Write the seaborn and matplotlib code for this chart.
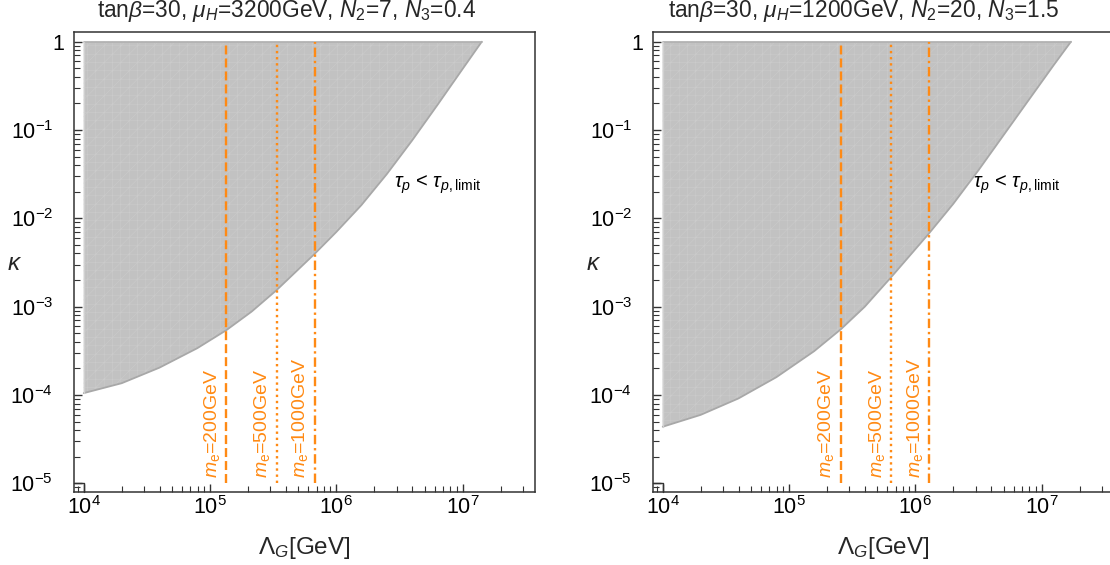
import matplotlib
matplotlib.use("Agg")
import matplotlib.pyplot as plt
import matplotlib.ticker as mticker
import matplotlib.transforms as mtransforms
import pandas as pd
import seaborn as sns
import numpy as np

# %% data
titles = [r"tan$\beta$=30, $\mu_H$=3200GeV, $N_2$=7, $N_3$=0.4",
          r"tan$\beta$=30, $\mu_H$=1200GeV, $N_2$=20, $N_3$=1.5"]

lam_left = [1.0e4, 2.0e4, 3.98e4, 7.94e4, 1.35e5, 2.14e5, 3.37e5, 6.76e5, 1.0e6,
            1.58e6, 2.51e6, 3.98e6, 6.31e6, 1.0e7, 1.42e7]
kappa_left = [1.05e-4, 1.36e-4, 2.04e-4, 3.39e-4, 5.43e-4, 8.81e-4, 1.54e-3, 3.98e-3, 7.0e-3,
              1.41e-2, 3.16e-2, 7.59e-2, 0.191, 0.49, 1.0]

lam_right = [1.0e4, 2.0e4, 3.98e4, 7.94e4, 1.58e5, 2.58e5, 3.98e5, 6.43e5, 1.28e6,
             2.0e6, 3.16e6, 5.01e6, 7.94e6, 1.26e7, 1.71e7]
kappa_right = [4.37e-5, 5.96e-5, 9.14e-5, 1.59e-4, 3.13e-4, 5.56e-4, 9.98e-4, 2.15e-3, 6.71e-3,
               1.46e-2, 3.49e-2, 8.77e-2, 0.22, 0.553, 1.0]

me_values = [200, 500, 1000]
me_lam_left = [1.35e5, 3.37e5, 6.76e5]
me_lam_right = [2.58e5, 6.45e5, 1.29e6]
me_styles = [(0, (3.8, 1.7)), (0, (1.0, 1.6)), (0, (4.0, 1.6, 1.0, 1.6))]

x_ticks = [1e4, 1e5, 1e6, 1e7]
x_ticklabels = [r"$10^{4}$", r"$10^{5}$", r"$10^{6}$", r"$10^{7}$"]
y_ticks = [1e-5, 1e-4, 1e-3, 1e-2, 1e-1, 1]
# the "1" at the top is drawn separately, closer to the frame
y_ticklabels = [r"$10^{-5}$", r"$10^{-4}$", r"$10^{-3}$", r"$10^{-2}$", r"$10^{-1}$", ""]
y_top_label = "1"

orange = '#ff8a14'
fill_gray = '#c2c2c2'

# %%
sns.set_theme(style='white')
plt.rcParams['font.family'] = ['Liberation Sans', 'DejaVu Sans']
plt.rcParams['mathtext.fontset'] = 'custom'
plt.rcParams['mathtext.rm'] = 'Liberation Sans'
plt.rcParams['mathtext.it'] = 'Liberation Sans:italic'
plt.rcParams['mathtext.bf'] = 'Liberation Sans:bold'
plt.rcParams['hatch.linewidth'] = 0.4

fig = plt.figure(figsize=(11.1, 5.65), dpi=100)
ax_l = fig.add_axes([74 / 1110, 73.3 / 565, 461 / 1110, 459.7 / 565])
ax_r = fig.add_axes([653 / 1110, 73.3 / 565, 461 / 1110, 459.7 / 565])

panels = [(ax_l, lam_left, kappa_left, me_lam_left, titles[0], 287),
          (ax_r, lam_right, kappa_right, me_lam_right, titles[1], 864)]

xmin, xmax = 10 ** 3.923, 10 ** 7.574
ymin, ymax = 10 ** -5.095, 10 ** 0.11

for ax, lam, kap, me_lam, title, title_x in panels:
    df = pd.DataFrame({'lam': lam, 'kappa': kap})
    ax.fill_between(df['lam'], df['kappa'], 1.0, facecolor=fill_gray, edgecolor='#cbcbcb',
                    hatch='++//', linewidth=0, zorder=1)
    sns.lineplot(data=df, x='lam', y='kappa', ax=ax, color='#a8a8a8', linewidth=1.3,
                 zorder=2, sort=False, estimator=None)
    ax.plot([lam[0], lam[-1]], [1.0, 1.0], color='#b0b0b0', lw=1.2, zorder=2)
    ax.plot([lam[0], lam[0]], [kap[0], 1.0], color='#d0d0d0', lw=1.0, zorder=2)

    # small frame box in the lower-left corner, as in the original
    ax.plot([xmin, 1e4, 1e4], [1e-5, 1e-5, ymin], color='#333333', lw=1.0, zorder=4,
            clip_on=False)

    for me, xl, ls in zip(me_values, me_lam, me_styles):
        ax.plot([xl, xl], [1e-5, 1.0], color=orange, lw=1.7, linestyle=ls, zorder=3)
        ax.annotate(r"$m_\mathrm{e}$=%dGeV" % me, xy=(xl, 1.15e-5), xytext=(-10.5, 0),
                    textcoords='offset points', rotation=90, ha='center', va='bottom',
                    color=orange, fontsize=14)

    ax.text(2.85e6, 0.024, r"$\tau_p$ < $\tau_{p,\mathrm{limit}}$", fontsize=14.5,
            ha='left', va='center', color='black')

    ax.set_xscale('log')
    ax.set_yscale('log')
    ax.set_xlim(xmin, xmax)
    ax.set_ylim(ymin, ymax)
    ax.xaxis.set_major_locator(mticker.FixedLocator(x_ticks))
    ax.xaxis.set_major_formatter(mticker.FixedFormatter(x_ticklabels))
    ax.yaxis.set_major_locator(mticker.FixedLocator(y_ticks))
    ax.yaxis.set_major_formatter(mticker.FixedFormatter(y_ticklabels))
    ax.xaxis.set_minor_locator(mticker.LogLocator(base=10, subs=np.arange(2, 10)))
    ax.yaxis.set_minor_locator(mticker.LogLocator(base=10, subs=np.arange(2, 10)))
    ax.xaxis.set_minor_formatter(mticker.NullFormatter())
    ax.yaxis.set_minor_formatter(mticker.NullFormatter())
    ax.tick_params(which='both', direction='in', bottom=True, left=True, top=False, right=False,
                   colors='#333333', labelcolor='black', labelsize=15.5)
    ax.tick_params(which='major', length=6, width=1.0)
    ax.tick_params(which='minor', length=4, width=0.8)
    ax.tick_params(axis='x', which='major', pad=3.5)
    ax.tick_params(axis='y', which='major', pad=15)
    for sp in ax.spines.values():
        sp.set_color('#333333')
        sp.set_linewidth(1.1)

    trans = mtransforms.blended_transform_factory(ax.transAxes, ax.transData)
    ax.text(-0.0213, y_ticks[-1], y_top_label, transform=trans, ha='right',
            va='center_baseline', fontsize=15.5, color='black')

    ax.set_xlabel(r"$\Lambda_G$[GeV]", fontsize=17.5)
    ax.xaxis.set_label_coords(0.5, -0.095)
    ax.set_ylabel(r"$\kappa$", fontsize=17.5, rotation=0, va='center', ha='center')
    ax.yaxis.set_label_coords(-0.128, 0.495)

    fig.text(title_x / 1110, 1 - 11 / 565, title, fontsize=16.4, ha='center', va='center')

fig.savefig('out.png', dpi=100)
